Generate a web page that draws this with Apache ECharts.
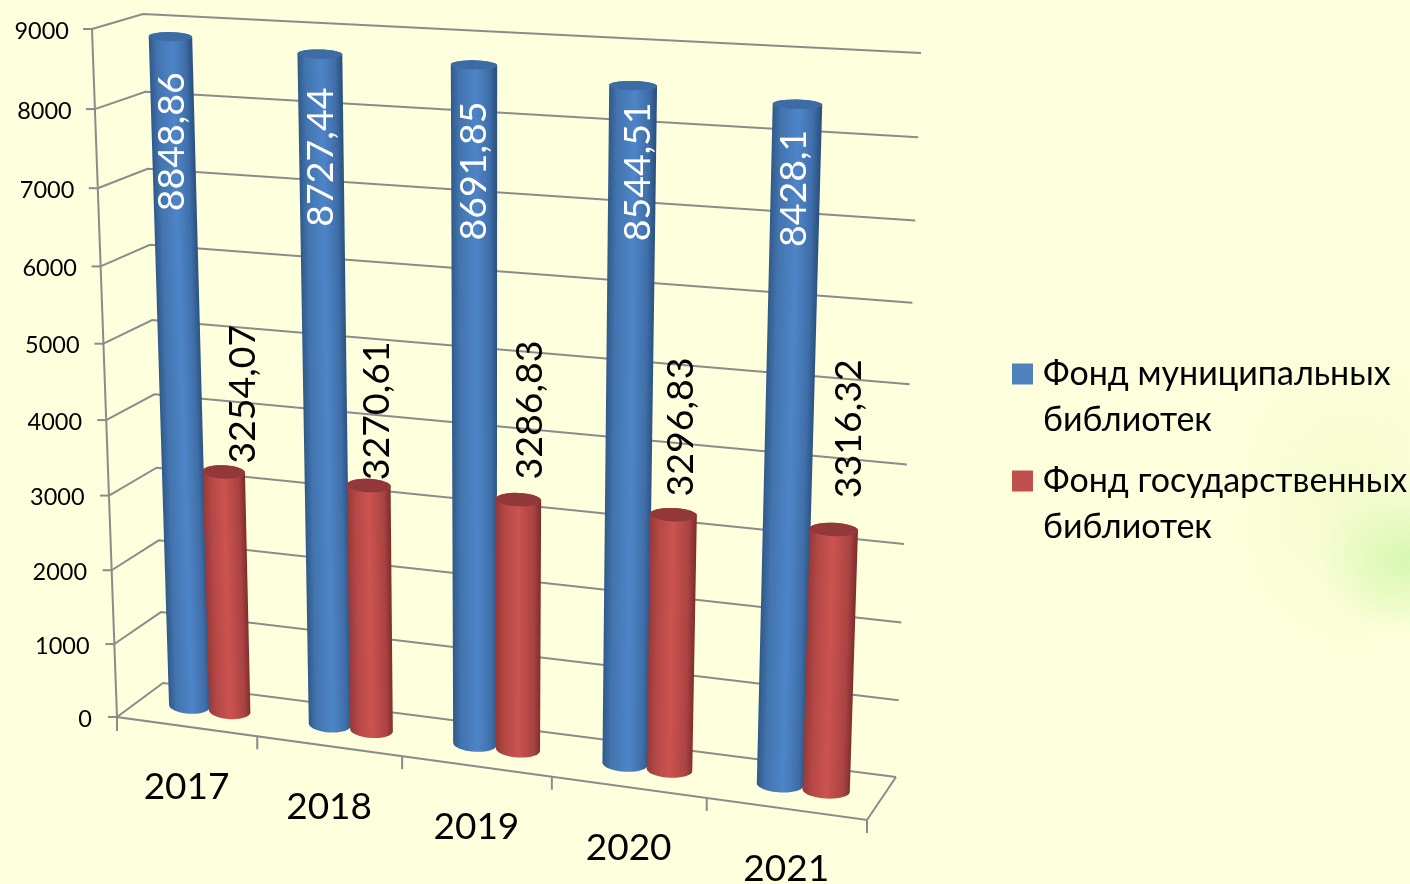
<!DOCTYPE html>
<html>
<head>
<meta charset="utf-8">
<style>
html, body { margin: 0; padding: 0; background: #feffdc; }
#main {
    width: 1410px; height: 884px;
    background:
        radial-gradient(ellipse 85px 75px at 1405px 560px, rgba(210,247,170,0.85), rgba(210,247,170,0)),
        radial-gradient(ellipse 130px 170px at 1350px 500px, rgba(236,247,195,0.55), rgba(236,247,195,0));
}
</style>
<script src="https://cdn.jsdelivr.net/npm/echarts@6/dist/echarts.min.js"></script>
</head>
<body>
<div id="main"></div>
<script>
var categories = ['2017', '2018', '2019', '2020', '2021'];
var municipal = [8848.86, 8727.44, 8691.85, 8544.51, 8428.1];
var state = [3254.07, 3270.61, 3286.83, 3296.83, 3316.32];
var yTicks = [0, 1000, 2000, 3000, 4000, 5000, 6000, 7000, 8000, 9000];
var seriesNames = ['Фонд муниципальных\nбиблиотек', 'Фонд государственных\nбиблиотек'];

var font = 'Lato, "Noto Sans", sans-serif';

// corners of the 3d box on the screen
var frontL0 = [117, 717], frontR0 = [867, 820], frontL9 = [92, 29], frontR9 = [892, 68];
var backL0 = [163, 683], backR0 = [896, 777], backL9 = [143, 14], backR9 = [921, 53];

// hand placed label offsets, the original has them moved by hand
var blueLabelDrop = [105, 103, 106, 86, 84];
var blueLabelShift = [2, 1, 0, 5, -4];
var redLabelLift = [79, 76, 91, 89, 102];
var redLabelShift = [19, 8, 11, 7, 15];

function warp(a, w) {
    return w * a / (1 + (w - 1) * a);
}
function mix(a, b, k) {
    return [a[0] + (b[0] - a[0]) * k, a[1] + (b[1] - a[1]) * k];
}
// t along the categories, v up the value axis, d into the depth, all 0..1
function project(t, v, d) {
    var tw = warp(t, 0.92), vw = warp(v, 0.949);
    var front = mix(mix(frontL0, frontR0, tw), mix(frontL9, frontR9, tw), vw);
    var back = mix(mix(backL0, backR0, tw), mix(backL9, backR9, tw), vw);
    return mix(front, back, d);
}
function toUnit(rect, p) {
    return [(p[0] - rect.x) / rect.width, (rect.y + rect.height - p[1]) / rect.height];
}

function makeCylinder(opts) {
    return function (params, api) {
        var rect = params.coordSys;
        var idx = api.value(0), val = api.value(1);
        var band = api.size([1, 0])[0];
        var base = toUnit(rect, api.coord([idx, 0]));
        var top = toUnit(rect, api.coord([idx, val]));
        var t0 = base[0] + opts.offset * band / rect.width;
        var r = 0.148 * band / rect.width;
        var d = 0.47;
        function rim(v, a) {
            // camera looks down more at the floor, so the ellipse opens up lower down
            var ry = 8 - 3.5 * v;
            var c = project(t0, v, d);
            var p = project(t0 - r * Math.cos(a), v, d);
            return [p[0], c[1] - 2 * (1 - v) + (p[1] - c[1]) * 0.4 + ry * Math.sin(a)];
        }
        var points = [];
        var n = 20, i;
        for (i = 0; i <= n; i++) {
            points.push(rim(0, Math.PI * i / n));
        }
        for (i = 0; i <= n; i++) {
            points.push(rim(top[1], Math.PI + Math.PI * i / n));
        }
        // shading runs square to the slanted sides of the cylinder
        var l0 = rim(0, 0), l1 = rim(top[1], 0), r0 = rim(0, Math.PI), r1 = rim(top[1], Math.PI);
        var lm = mix(l0, l1, 0.5), rm = mix(r0, r1, 0.5);
        var ax = l1[0] - l0[0], ay = l1[1] - l0[1], len = Math.sqrt(ax * ax + ay * ay);
        var px = -ay / len, py = ax / len;
        var w = (rm[0] - lm[0]) * px + (rm[1] - lm[1]) * py;
        var body = {
            type: 'polygon',
            silent: true,
            shape: { points: points },
            style: {
                fill: {
                    type: 'linear', global: true,
                    x: lm[0], y: lm[1], x2: lm[0] + px * w, y2: lm[1] + py * w,
                    colorStops: opts.stops
                }
            }
        };
        var capPts = [];
        for (var j = 0; j < 36; j++) {
            capPts.push(rim(top[1], Math.PI * 2 * j / 36));
        }
        var c = project(t0, top[1], d);
        return {
            type: 'group',
            children: [
                body,
                { type: 'polygon', shape: { points: capPts }, style: { fill: opts.cap }, silent: true },
                {
                    type: 'text',
                    x: c[0] + opts.labelShift[idx],
                    y: c[1] + opts.labelMove[idx],
                    rotation: Math.PI / 2,
                    silent: true,
                    style: {
                        text: String(val).replace('.', ','),
                        fill: opts.labelColor,
                        font: '37.5px ' + font,
                        align: 'center',
                        verticalAlign: 'middle'
                    }
                }
            ]
        };
    };
}

var gridColor = '#8b8b8b';
function renderWalls(params, api) {
    var rect = params.coordSys;
    var v = toUnit(rect, api.coord([0, api.value(1)]))[1];
    var a = project(0, v, 0), b = project(0, v, 1), c = project(1, v, 1);
    var children = [
        { type: 'polyline', shape: { points: [a, b, c] }, style: { stroke: gridColor, lineWidth: 2, fill: null } },
        { type: 'line', shape: { x1: a[0] - 9, y1: a[1], x2: a[0], y2: a[1] }, style: { stroke: gridColor, lineWidth: 2 } },
        {
            type: 'text',
            style: {
                text: String(api.value(1)), x: a[0] - 23 - 2 * (1 - v), y: a[1] + 2, fill: '#000',
                font: '23.5px ' + font, align: 'right', verticalAlign: 'middle'
            }
        }
    ];
    // left edge and floor only once
    if (api.value(1) === 0) {
        var topLeft = project(0, 1, 0);
        var fr = project(1, 0, 0), br = project(1, 0, 1);
        children.push({ type: 'polyline', shape: { points: [topLeft, a, fr, br] }, style: { stroke: gridColor, lineWidth: 2, fill: null } });
    }
    return { type: 'group', silent: true, children: children };
}

function renderCategory(params, api) {
    var rect = params.coordSys;
    var idx = api.value(0);
    var u = toUnit(rect, api.coord([idx, 0]));
    var band = api.size([1, 0])[0] / rect.width;
    var tick = project(u[0] + band / 2, 0, 0);
    var children = [
        { type: 'line', shape: { x1: tick[0], y1: tick[1], x2: tick[0], y2: tick[1] + 13 }, style: { stroke: gridColor, lineWidth: 2 } }
    ];
    if (idx === 0) {
        var first = project(0, 0, 0);
        children.push({ type: 'line', shape: { x1: first[0], y1: first[1], x2: first[0], y2: first[1] + 14 }, style: { stroke: gridColor, lineWidth: 2 } });
    }
    var mid = project(u[0], 0, 0);
    children.push({
        type: 'text',
        style: {
            text: categories[idx], x: mid[0], y: mid[1] + 60.5, fill: '#000',
            font: '37px ' + font, align: 'center', verticalAlign: 'middle'
        }
    });
    return { type: 'group', silent: true, children: children };
}

var catIndex = categories.map(function (c, i) { return i; });
var blueData = municipal.map(function (v, i) { return [i, v]; });
var redData = state.map(function (v, i) { return [i, v]; });

var blueStops = [
    { offset: 0, color: '#30598a' }, { offset: 0.18, color: '#4274ae' },
    { offset: 0.55, color: '#4e85c8' }, { offset: 0.85, color: '#3f6fa9' }, { offset: 1, color: '#2c5382' }
];
var redStops = [
    { offset: 0, color: '#96393a' }, { offset: 0.2, color: '#b54846' },
    { offset: 0.5, color: '#cc5350' }, { offset: 0.85, color: '#a94342' }, { offset: 1, color: '#7f2c2d' }
];

var myChart = echarts.init(document.getElementById('main'), null, { renderer: 'canvas' });
myChart.setOption({
    backgroundColor: 'transparent',
    animation: false,
    grid: { left: 0, right: 0, top: 0, bottom: 0 },
    xAxis: { type: 'category', data: categories, show: false },
    yAxis: { type: 'value', min: 0, max: 9000, interval: 1000, show: false },
    legend: {
        orient: 'vertical',
        left: 1012,
        top: 351,
        padding: 0,
        itemWidth: 26,
        itemHeight: 92,
        itemGap: 15,
        // square sits on the first text line, the two tiny dots stretch the box of the icon
        icon: 'path://M0 12.5H21V33.5H0Z M0 0h.01v.01H0Z M25.99 91.99h.01v.01h-.01Z',
        selectedMode: false,
        textStyle: { fontFamily: font, fontSize: 34, lineHeight: 46, color: '#000' },
        data: seriesNames
    },
    series: [
        {
            type: 'custom', name: 'walls', z: 1, silent: true,
            data: yTicks.map(function (v) { return [0, v]; }),
            encode: { x: 0, y: 1 },
            renderItem: renderWalls
        },
        {
            type: 'custom', name: 'categories', z: 1, silent: true,
            data: catIndex.map(function (i) { return [i, 0]; }),
            encode: { x: 0, y: 1 },
            renderItem: renderCategory
        },
        {
            type: 'custom', name: seriesNames[0], z: 2,
            itemStyle: { color: '#4f81bd' },
            data: blueData,
            encode: { x: 0, y: 1 },
            renderItem: makeCylinder({
                offset: -0.13, stops: blueStops, cap: '#3d6ca5',
                labelColor: '#fff', labelShift: blueLabelShift, labelMove: blueLabelDrop
            })
        },
        {
            type: 'custom', name: seriesNames[1], z: 3,
            itemStyle: { color: '#c0504d' },
            data: redData,
            encode: { x: 0, y: 1 },
            renderItem: makeCylinder({
                offset: 0.16, stops: redStops, cap: '#93383a',
                labelColor: '#000', labelShift: redLabelShift,
                labelMove: redLabelLift.map(function (v) { return -v; })
            })
        }
    ]
});
</script>
</body>
</html>
